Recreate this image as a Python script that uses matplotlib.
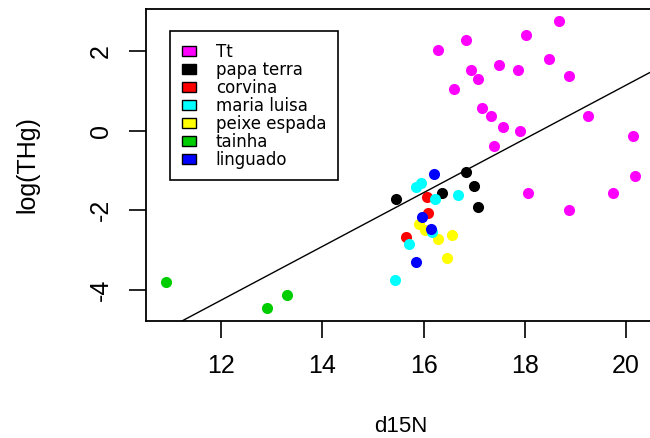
import matplotlib
matplotlib.use("Agg")
from matplotlib import pyplot
from matplotlib.patches import Patch

# d15N / log(THg) per species
tt_x = [16.29, 16.83, 18.02, 18.67, 16.94, 17.08, 17.48, 17.87, 18.48, 18.88, 16.61,
        17.15, 17.33, 17.56, 17.91, 19.24, 20.14, 17.40, 20.17, 18.06, 19.74, 18.88]
tt_y = [2.03, 2.27, 2.39, 2.74, 1.53, 1.30, 1.65, 1.53, 1.80, 1.38, 1.03,
        0.57, 0.37, 0.08, -0.01, 0.37, -0.13, -0.39, -1.13, -1.56, -1.56, -1.99]
papa_x = [15.45, 16.83, 16.99, 16.37, 17.08]
papa_y = [-1.72, -1.03, -1.39, -1.56, -1.91]
corvina_x = [16.06, 16.09, 15.65]
corvina_y = [-1.66, -2.08, -2.68]
peixe_x = [15.92, 16.02, 16.29, 16.57, 16.47]
peixe_y = [-2.34, -2.49, -2.73, -2.61, -3.19]
maria_x = [15.94, 15.85, 16.22, 16.68, 16.17, 15.72, 15.43]
maria_y = [-1.31, -1.42, -1.72, -1.63, -2.54, -2.84, -3.74]
tainha_x = [10.92, 12.90, 13.30]
tainha_y = [-3.81, -4.46, -4.12]
linguado_x = [16.21, 15.96, 16.14, 15.86]
linguado_y = [-1.09, -2.18, -2.47, -3.29]

# regression line (abline of lm)
intercept = -12.36
slope = 0.675

names = ["Tt", "papa terra", "corvina", "maria luisa", "peixe espada", "tainha", "linguado"]
colmap = {"Tt": "#FF00FF", "papa terra": "black", "corvina": "#FF0000",
          "maria luisa": "#00FFFF", "peixe espada": "#FFFF00", "tainha": "#00CD00",
          "linguado": "#0000FF"}

# drawing order (later ones sit on top)
series = [("Tt", tt_x, tt_y), ("papa terra", papa_x, papa_y), ("corvina", corvina_x, corvina_y),
          ("peixe espada", peixe_x, peixe_y), ("maria luisa", maria_x, maria_y),
          ("tainha", tainha_x, tainha_y), ("linguado", linguado_x, linguado_y)]

pyplot.rcParams["font.family"] = ["Liberation Sans", "DejaVu Sans"]
pyplot.rcParams["axes.unicode_minus"] = False

fig = pyplot.figure(figsize=(6.5, 4.38), dpi=100)
ax = fig.add_axes([146 / 650, (438 - 321) / 438, (655 - 146) / 650, 312 / 438])

for name, xs, ys in series:
    ax.plot(xs, ys, "o", color=colmap[name], markersize=8, markeredgewidth=0, zorder=2)

ax.axline((0, intercept), slope=slope, color="black", lw=1, zorder=3)

ax.set_xlim(10.52, 20.57)
ax.set_ylim(-4.78, 3.05)
ax.set_xticks([12, 14, 16, 18, 20])
ax.set_yticks([-4, -2, 0, 2])
ax.tick_params(length=12, width=1.2, direction="out", labelsize=18, pad=12)
ax.tick_params(axis="y", labelrotation=90)
for lab in ax.get_yticklabels():
    lab.set_va("center")
for sp in ax.spines.values():
    sp.set_linewidth(1.3)

ax.set_xlabel("d15N", fontsize=16)
ax.xaxis.set_label_coords(0.5, -0.305)
ax.set_ylabel("log(THg)", fontsize=18)
ax.yaxis.set_label_coords(-0.21, 0.5)

handles = [Patch(facecolor=colmap[n], edgecolor="black", lw=1) for n in names]
leg = ax.legend(handles, names, loc="upper left", bbox_to_anchor=(0.047, 0.929),
                borderaxespad=0, prop={"family": "DejaVu Sans", "size": 12},
                handlelength=0.85, handleheight=0.6, handletextpad=1.2,
                labelspacing=0.0, borderpad=0.7, fancybox=False, framealpha=1)
leg.get_frame().set_edgecolor("black")
leg.get_frame().set_linewidth(1.2)

pyplot.savefig("out.png", dpi=100)
